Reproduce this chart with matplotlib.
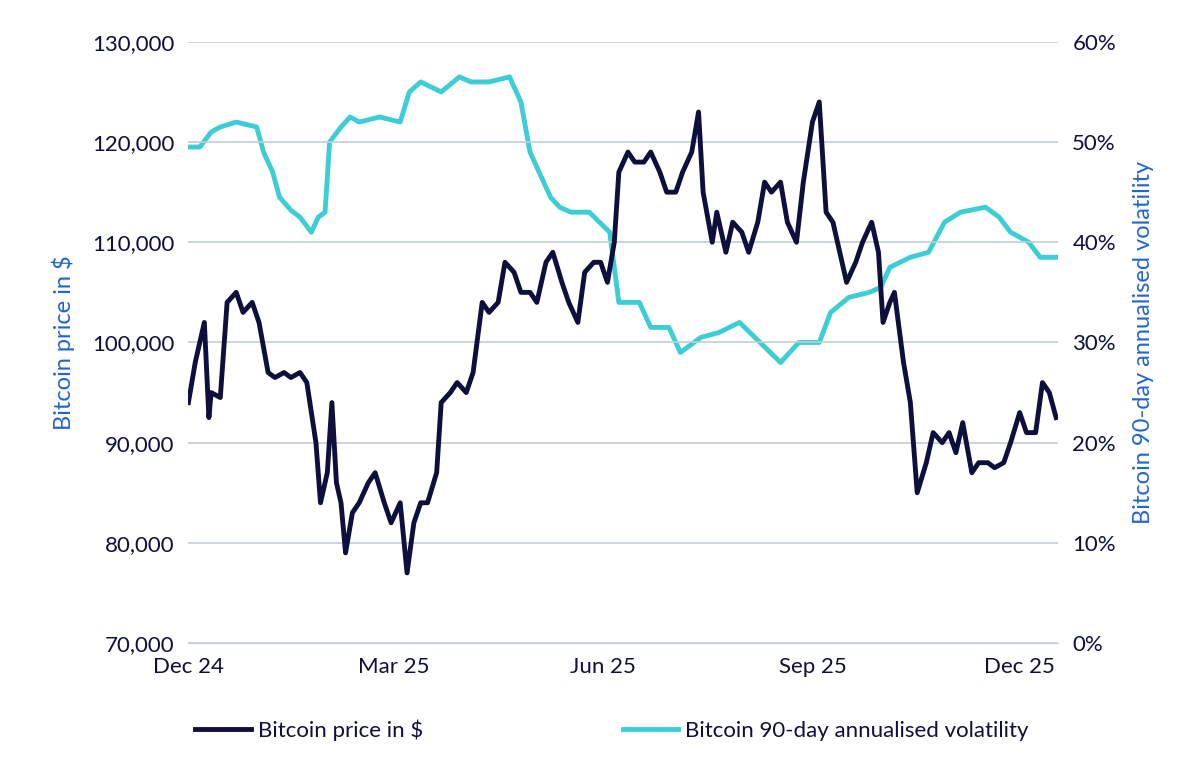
import matplotlib.pyplot as plt
import matplotlib.dates as mdates
import numpy as np
import datetime as dt

plt.rcParams['font.family'] = ['Lato', 'DejaVu Sans']

start = dt.date(2024, 12, 1)

# Bitcoin price (thousand $), days since 1 Dec 2024
price_days = [0, 3.5, 7, 9, 10.5, 14, 17.5, 21, 24.5, 28, 31.5, 35, 38.5, 42, 45.5, 49, 52.5, 56, 58, 61, 63, 65, 67,
              69, 72, 75, 79, 82, 86, 89, 93, 96, 99, 102, 105, 109, 111, 115, 118, 122, 125, 129, 132, 136, 139,
              143, 146, 150, 153, 157, 160, 164, 167, 171, 174, 178, 181, 184, 187, 189, 193, 196, 200, 203, 207,
              210, 214, 217, 221, 224, 226, 230, 232, 236, 239, 243, 246, 250, 253, 256, 260, 263, 267, 270, 274,
              277, 280, 283, 286, 289, 293, 296, 300, 303, 305, 308, 310, 314, 317, 320, 324, 327, 331, 334, 337,
              340, 344, 347, 351, 354, 358, 361, 365, 368, 372, 375, 378, 381]
price = [94, 98, 102, 92.5, 95, 94.5, 104, 105, 103, 104, 102, 97, 96.5, 97, 96.5, 97, 96, 90, 84, 87, 94, 86,
         84, 79, 83, 84, 86, 87, 84, 82, 84, 77, 82, 84, 84, 87, 94, 95, 96, 95, 97, 104, 103, 104, 108, 107,
         105, 105, 104, 108, 109, 106, 104, 102, 107, 108, 108, 106, 110, 117, 119, 118, 118, 119, 117, 115,
         115, 117, 119, 123, 115, 110, 113, 109, 112, 111, 109, 112, 116, 115, 116, 112, 110, 116, 122, 124,
         113, 112, 109, 106, 108, 110, 112, 109, 102, 104, 105, 98, 94, 85, 88, 91, 90, 91, 89, 92, 87, 88,
         88, 87.5, 88, 90, 93, 91, 91, 96, 95, 92.5]

# 90-day annualised volatility (%)
vol_days = [0, 5, 10, 14, 21, 30, 33, 37, 40, 45, 49, 54, 57, 60, 62, 67, 71, 75, 84, 93, 97, 102, 111, 119,
            124, 132, 141, 146, 150, 154, 159, 163, 168, 176, 185, 189, 198, 203, 211, 216, 225, 233, 242, 251,
            260, 268, 277, 282, 290, 299, 304, 308, 317, 325, 332, 339, 350, 356, 361, 369, 374, 382]
vol = [49.5, 49.5, 51, 51.5, 52, 51.5, 49, 47, 44.5, 43.2, 42.5, 41, 42.5, 43, 50, 51.5, 52.5, 52, 52.5, 52,
       55, 56, 55, 56.5, 56, 56, 56.5, 54, 49, 47, 44.5, 43.5, 43, 43, 41, 34, 34, 31.5, 31.5, 29, 30.5, 31,
       32, 30, 28, 30, 30, 33, 34.5, 35, 35.5, 37.5, 38.5, 39, 42, 43, 43.5, 42.5, 41, 40, 38.5, 38.5]

price_dates = [start + dt.timedelta(days=d) for d in price_days]
vol_dates = [start + dt.timedelta(days=d) for d in vol_days]

navy = '#0e0f3d'
cyan = '#3dcdd6'
blue = '#2266cc'

fig = plt.figure(figsize=(12, 7.61), dpi=100)
ax = fig.add_axes([0.157, 0.155, 0.725, 0.79])
ax2 = ax.twinx()

l2, = ax2.plot(vol_dates, vol, color=cyan, lw=3.5, label='Bitcoin 90-day annualised volatility')
l1, = ax.plot(price_dates, np.array(price) * 1000, color=navy, lw=3.5, label='Bitcoin price in $')
ax.set_zorder(ax2.get_zorder() + 1)
ax.patch.set_visible(False)

ax.set_ylim(70000, 130000)
ax.set_yticks(np.arange(70000, 130001, 10000))
ax.set_yticklabels([f'{v:,}' for v in range(70000, 130001, 10000)])
ax2.set_ylim(0, 60)
ax2.set_yticks(range(0, 61, 10))
ax2.set_yticklabels([f'{v}%' for v in range(0, 61, 10)])
ax.set_xlim(start, start + dt.timedelta(days=382))
ax.set_xticks([dt.date(2024, 12, 1), dt.date(2025, 3, 1), dt.date(2025, 6, 1), dt.date(2025, 9, 1), dt.date(2025, 12, 1)])
ax.xaxis.set_major_formatter(mdates.DateFormatter('%b %y'))

ax.grid(axis='y', color='#c5ccd6', lw=1.2)
ax.set_axisbelow(True)
for a in (ax, ax2):
    for s in a.spines.values():
        s.set_visible(False)
    a.tick_params(length=0, labelsize=16, labelcolor=navy, pad=10)
ax.spines['bottom'].set_visible(True)
ax.spines['bottom'].set_color('#c5ccd6')

ax.set_ylabel('Bitcoin price in $', color=blue, fontsize=17, labelpad=12)
ax2.set_ylabel('Bitcoin 90-day annualised volatility', color=blue, fontsize=17, labelpad=12)

fig.legend(handles=[l1, l2], loc='lower center', bbox_to_anchor=(0.51, 0.0), ncol=2, frameon=False,
           fontsize=16, labelcolor=navy, handlelength=2.5, columnspacing=9, handletextpad=0.3)

fig.savefig('out.png', dpi=100)
